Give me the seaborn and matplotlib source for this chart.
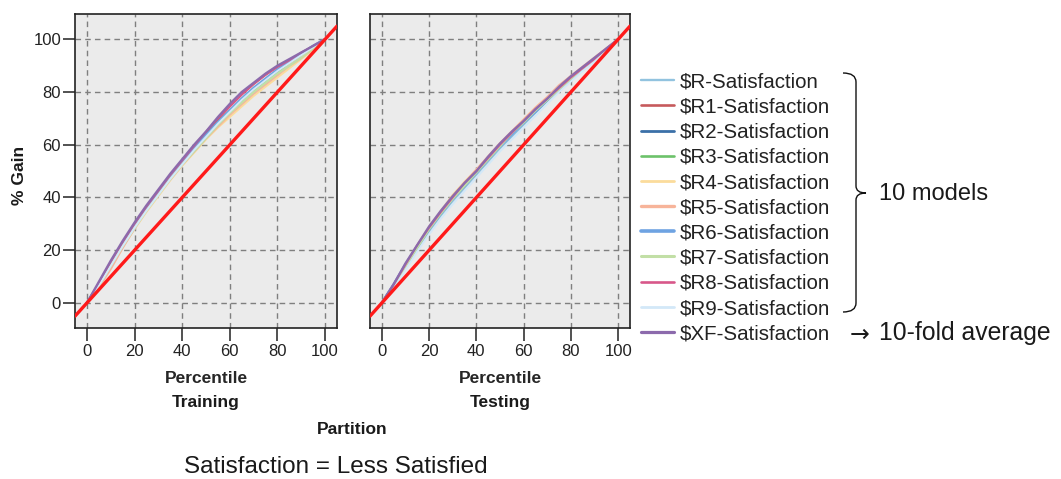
import numpy as np
import pandas as pd
import matplotlib
matplotlib.use("Agg")
import matplotlib.pyplot as plt
from matplotlib.path import Path
from matplotlib.patches import PathPatch
from matplotlib.lines import Line2D
import seaborn as sns

# ---------------------------------------------------------------- data
percentile = [0, 5, 10, 15, 20, 25, 30, 35, 40, 45, 50,
              55, 60, 65, 70, 75, 80, 85, 90, 95, 100]

models = ["$R-Satisfaction", "$R1-Satisfaction", "$R2-Satisfaction",
          "$R3-Satisfaction", "$R4-Satisfaction", "$R5-Satisfaction",
          "$R6-Satisfaction", "$R7-Satisfaction", "$R8-Satisfaction",
          "$R9-Satisfaction", "$XF-Satisfaction"]

gain_training = {
    "$R-Satisfaction":  [0, 6.5, 14, 21.5, 28, 35, 41.5, 47.5, 53, 58.5, 63.5, 68.5, 73, 77, 80.5, 84, 87.5, 90.5, 93.5, 97, 100],
    "$R1-Satisfaction": [0, 7.5, 15.5, 23, 30, 36.5, 42.5, 48.5, 54, 59.5, 64.5, 69.5, 74.5, 79, 83, 86.5, 89.5, 92, 94.5, 97.5, 100],
    "$R2-Satisfaction": [0, 7, 15, 22.5, 29, 36, 42, 48, 53, 58.5, 63.5, 68.5, 73, 77, 81, 84.5, 88, 91, 94, 97, 100],
    "$R3-Satisfaction": [0, 7, 14.5, 22, 29, 35.5, 41.5, 47.5, 53, 58, 63, 68, 72.5, 76.5, 80.5, 84, 87, 90.5, 93.5, 96.5, 100],
    "$R4-Satisfaction": [0, 6, 13.5, 21, 28, 34.5, 40.5, 46.5, 52, 57, 62, 66.5, 70.5, 74.5, 78.5, 82, 85.5, 89, 92.5, 96, 100],
    "$R5-Satisfaction": [0, 6, 13, 21, 28.5, 35.5, 41.5, 47, 52.5, 57.5, 62.5, 67, 71.5, 75.5, 79.5, 83, 86.5, 90, 93, 96.5, 100],
    "$R6-Satisfaction": [0, 7, 15, 22.5, 29.5, 36, 42, 48, 53.5, 58.5, 63.5, 68.5, 73, 77.5, 81.5, 85, 88.5, 91.5, 94.5, 97.5, 100],
    "$R7-Satisfaction": [0, 6.5, 14, 21.5, 28.5, 35, 41, 47, 52.5, 57.5, 62.5, 67.5, 72, 76, 80, 83.5, 87, 90, 93, 96.5, 100],
    "$R8-Satisfaction": [0, 7.5, 15.5, 23, 30, 36.5, 42.5, 48.5, 54, 59.5, 65, 70, 74.5, 79, 83, 86.5, 89.5, 92, 95, 97.5, 100],
    "$R9-Satisfaction": [0, 6.5, 14, 21.5, 28.5, 35, 41, 47, 52.5, 58, 63, 68, 72.5, 77, 81, 84.5, 88, 91, 94, 97, 100],
    "$XF-Satisfaction": [0, 8, 16, 23.5, 30.5, 37, 43, 49, 54.5, 60, 65, 70.5, 75.5, 80, 83.5, 87, 90, 92.5, 95, 97.5, 100],
}

gain_testing = {
    "$R-Satisfaction":  [0, 6, 13.5, 20.5, 27, 33, 38.5, 43.5, 48.5, 53.5, 58.5, 63, 67.5, 72, 76.5, 80.5, 84.5, 88.5, 92, 96, 100],
    "$R1-Satisfaction": [0, 7, 14.5, 21.5, 28.5, 34.5, 40, 45, 50, 55, 60, 64.5, 69, 73.5, 77.5, 81.5, 85.5, 89, 92.5, 96.5, 100],
    "$R2-Satisfaction": [0, 7, 14.5, 21.5, 28, 34, 39.5, 44.5, 49.5, 54.5, 59.5, 64, 68.5, 73, 77, 81, 85, 88.5, 92.5, 96, 100],
    "$R3-Satisfaction": [0, 6.5, 14, 21, 28, 34, 39.5, 45, 49.5, 54.5, 59.5, 64.5, 68.5, 73, 77, 81, 85, 89, 92.5, 96, 100],
    "$R4-Satisfaction": [0, 7, 14.5, 22, 29, 35, 41, 46, 50.5, 55.5, 60.5, 65, 69.5, 74, 78, 82, 86, 89.5, 93, 96.5, 100],
    "$R5-Satisfaction": [0, 6.5, 14, 21.5, 28.5, 34.5, 40.5, 45.5, 50.5, 55.5, 60.5, 65, 69.5, 74, 78, 82.5, 86, 89.5, 93, 96.5, 100],
    "$R6-Satisfaction": [0, 7, 14.5, 21.5, 28, 34, 39.5, 44.5, 49.5, 54.5, 59.5, 64, 68.5, 72.5, 77, 81, 85, 88.5, 92, 96, 100],
    "$R7-Satisfaction": [0, 6.5, 14, 21, 28, 34, 39.5, 44.5, 49.5, 54.5, 59.5, 64.5, 68.5, 73, 77, 81, 85, 89, 92.5, 96, 100],
    "$R8-Satisfaction": [0, 7, 14.5, 22, 28.5, 34.5, 40, 45.5, 50, 55, 60, 64.5, 69, 73.5, 77.5, 81.5, 85.5, 89, 92.5, 96.5, 100],
    "$R9-Satisfaction": [0, 5.5, 12.5, 19.5, 26, 32, 37.5, 42.5, 47.5, 52.5, 57.5, 62, 66.5, 71, 75.5, 80, 84, 88, 91.5, 95.5, 100],
    "$XF-Satisfaction": [0, 7, 15, 22, 29, 35, 40.5, 45.5, 50, 55.5, 60.5, 65, 69, 73.5, 77.5, 82, 86, 89.5, 93, 96.5, 100],
}

partitions = ["Training", "Testing"]
ticks = [0, 20, 40, 60, 80, 100]

# ---------------------------------------------------------------- style
model_colors = ["#92c3df", "#c65a5c", "#3b70a8", "#6cc26a", "#fbdc9c",
                "#f7b49a", "#6ea3e2", "#c2dfa6", "#d8578a", "#d3e8f8",
                "#8c6aac"]
model_widths = [1.1, 1.3, 1.4, 1.3, 1.4, 1.8, 2.0, 1.6, 1.3, 1.4, 1.7]
palette = dict(zip(models, model_colors))
widths = dict(zip(models, model_widths))

sns.set_style("white", {
    "axes.facecolor": "#ebebeb",
    "axes.edgecolor": "#222222",
    "axes.linewidth": 1.2,
    "grid.color": "#7f7f7f",
    "grid.linestyle": (0, (4, 3)),
    "xtick.bottom": True,
    "ytick.left": True,
})
plt.rcParams["font.family"] = ["Liberation Sans", "DejaVu Sans"]
plt.rcParams["text.color"] = "#1a1a1a"

W, H = 1061, 479
fig = plt.figure(figsize=(W / 100, H / 100), dpi=100)


def fx(px):
    return px / W


def fy(py):
    return 1 - py / H


ax_train = fig.add_axes([fx(75), fy(328), fx(337 - 75), (328 - 14) / H])
ax_test = fig.add_axes([fx(370), fy(328), fx(630 - 370), (328 - 14) / H])

tables = {}
for part, gains in zip(partitions, [gain_training, gain_testing]):
    rows = []
    for m in models:
        for p, g in zip(percentile, gains[m]):
            rows.append({"Percentile": p, "Gain": g, "Model": m})
    tables[part] = pd.DataFrame(rows)

for ax, part in zip([ax_train, ax_test], partitions):
    df = tables[part]
    for m in models:
        sns.lineplot(data=df[df["Model"] == m], x="Percentile", y="Gain",
                     color=palette[m], linewidth=widths[m], ax=ax,
                     legend=False, sort=False, zorder=3)
    # baseline gain (random model)
    ax.axline((0, 0), slope=1, color="#ff1a1a", linewidth=2.4, zorder=4)
    ax.set_xlim(-5, 105)
    ax.set_ylim(-9.5, 109.6)
    ax.set_xticks(ticks)
    ax.set_yticks(ticks)
    ax.grid(True, linewidth=1.0)
    ax.set_axisbelow(True)
    for s in ax.spines.values():
        s.set_visible(True)
        s.set_color("#222222")
        s.set_linewidth(1.2)
    ax.tick_params(axis="x", length=9, width=1.1, pad=2.5, labelsize=12,
                   colors="#222222")
    ax.tick_params(axis="y", length=9, width=1.1, pad=1, labelsize=12,
                   colors="#222222")
    ax.set_xlabel("Percentile", fontsize=12.5, fontweight="bold",
                  labelpad=8.5)
    ax.set_ylabel("")

ax_test.tick_params(axis="y", left=False, labelleft=False)

# partition labels
fig.text(fx(206), fy(403), "Training", ha="center", va="center",
         fontsize=12.5, fontweight="bold")
fig.text(fx(500), fy(403), "Testing", ha="center", va="center",
         fontsize=12.5, fontweight="bold")
fig.text(fx(352), fy(429), "Partition", ha="center", va="center",
         fontsize=12.5, fontweight="bold")
fig.text(fx(20), fy(175), "% Gain", ha="center", va="center",
         rotation=90, fontsize=12.5, fontweight="bold")
fig.text(fx(336), fy(467), "Satisfaction = Less Satisfied", ha="center",
         va="center", fontsize=17.5)

# legend
handles = [Line2D([], [], color=palette[m], linewidth=widths[m] + 0.6)
           for m in models]
fig.legend(handles, models, loc="upper left",
           bbox_to_anchor=(fx(641), fy(72.5)), frameon=False, fontsize=14.8,
           handlelength=1.6, handletextpad=0.3, labelspacing=0.3,
           borderaxespad=0, borderpad=0, labelcolor="#222222")

# brace grouping the ten fold models
x0, xm, xt = 843, 856, 866
yt, ymid, yb = 73, 193, 312
verts = [(x0, yt), (xm, yt), (xm, yt + 9),
         (xm, ymid - 7),
         (xm, ymid), (xt, ymid),
         (xm, ymid), (xm, ymid + 7),
         (xm, yb - 9),
         (xm, yb), (x0, yb)]
codes = [Path.MOVETO, Path.CURVE3, Path.CURVE3,
         Path.LINETO,
         Path.CURVE3, Path.CURVE3,
         Path.CURVE3, Path.CURVE3,
         Path.LINETO,
         Path.CURVE3, Path.CURVE3]
verts = [(fx(a), fy(b)) for a, b in verts]
fig.add_artist(PathPatch(Path(verts, codes), transform=fig.transFigure,
                         fill=False, edgecolor="#111111", linewidth=1.0))

fig.text(fx(879), fy(194), "10 models", ha="left", va="center",
         fontsize=17)
fig.text(fx(850), fy(335), "\u2192", ha="left", va="center",
         fontsize=17, family="DejaVu Sans")
fig.text(fx(879), fy(333), "10-fold average", ha="left",
         va="center", fontsize=17.8)

fig.savefig("out.png", dpi=100)
